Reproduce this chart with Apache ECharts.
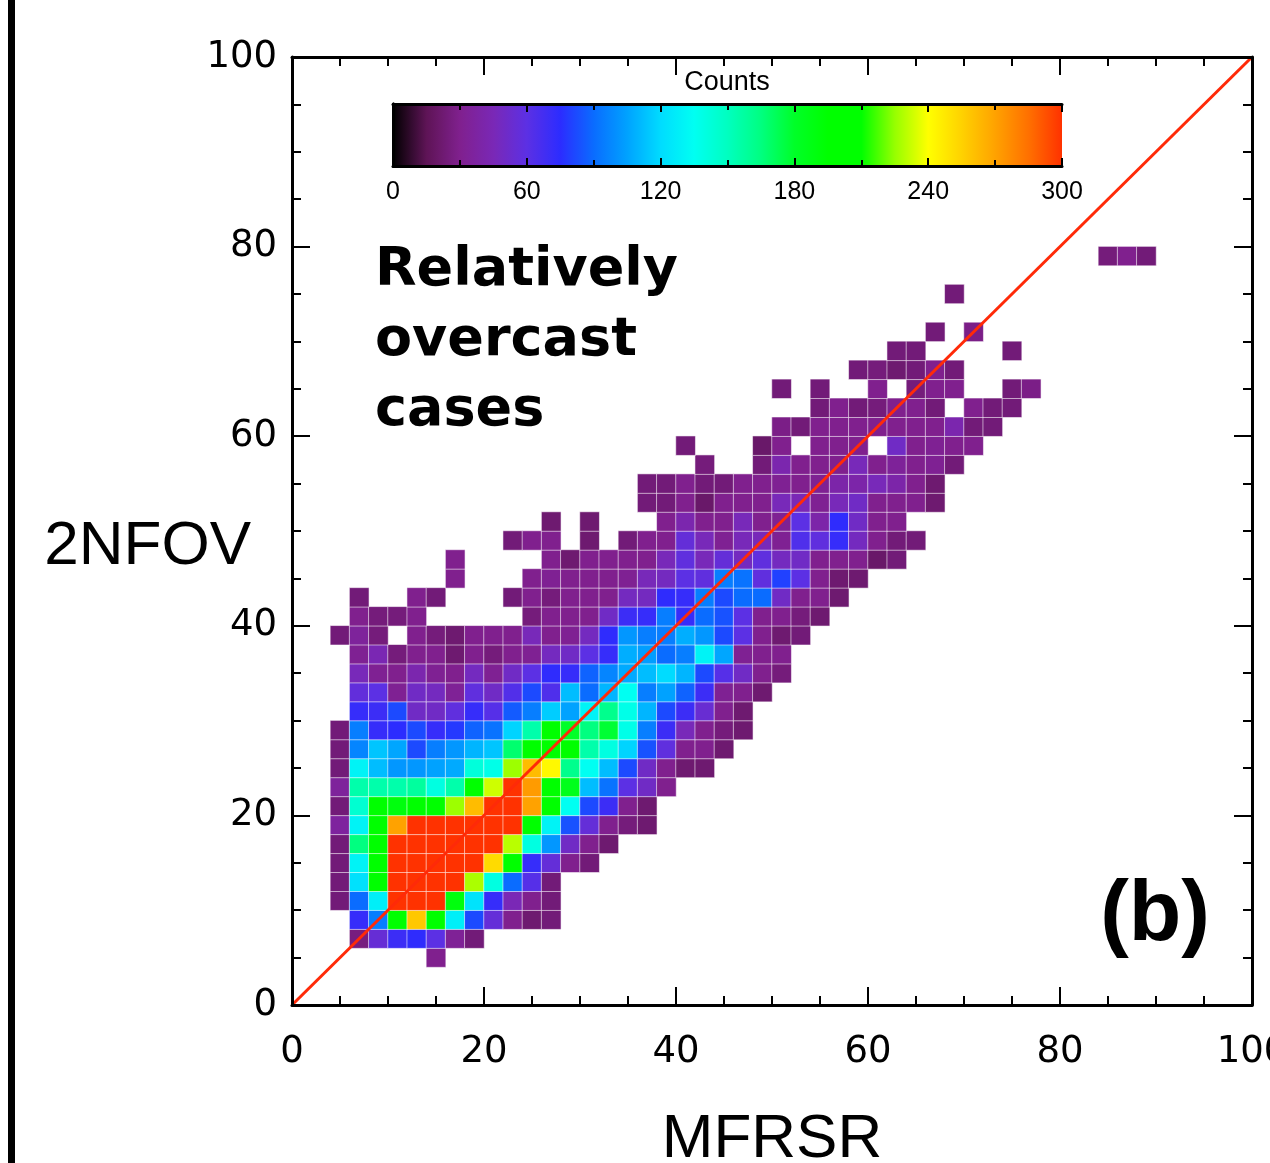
<!DOCTYPE html>
<html>
<head>
<meta charset="utf-8">
<script src="https://cdn.jsdelivr.net/npm/echarts@6/dist/echarts.min.js"></script>
<style>
  html, body { margin: 0; padding: 0; background: #fff; }
  #chart { width: 1270px; height: 1163px; }
</style>
</head>
<body>
<div id="chart"></div>
<script>
// 2D histogram of cloud fraction (%): MFRSR (x) vs 2NFOV (y), 2 % bins.
// Each row holds counts for consecutive x bins, starting at the x edge given in xFirst.
const n04 = [30];
const n06 = [26, 55, 70, 74, 60, 33, 24];
const n08 = [72, 95, 195, 258, 195, 128, 82, 56, 30, 22, 24];
const n10 = [24, 90, 128, 300, 300, 300, 190, 123, 72, 45, 30, 24];
const n12 = [24, 122, 195, 300, 300, 300, 300, 228, 140, 90, 62, 24];
const n14 = [24, 130, 195, 300, 300, 300, 300, 300, 252, 195, 72, 56, 30, 24];
const n16 = [24, 165, 195, 300, 300, 300, 300, 300, 300, 230, 140, 102, 50, 30, 22];
const n18 = [36, 130, 195, 270, 300, 300, 300, 300, 300, 300, 195, 130, 84, 56, 30, 25, 22];
const n20 = [24, 145, 195, 190, 195, 195, 226, 262, 300, 300, 270, 195, 135, 82, 70, 30, 22];
const n22 = [35, 155, 155, 155, 158, 140, 155, 195, 233, 300, 272, 195, 185, 112, 92, 60, 50, 30];
const n24 = [24, 130, 112, 102, 102, 105, 107, 142, 138, 226, 262, 242, 162, 135, 112, 82, 50, 30, 22, 22];
const n26 = [24, 97, 114, 106, 82, 95, 102, 110, 114, 168, 195, 195, 198, 155, 140, 118, 84, 58, 30, 30, 22];
const n28 = [24, 95, 72, 75, 82, 72, 78, 88, 92, 118, 155, 195, 180, 165, 178, 138, 95, 70, 46, 30, 25, 22];
const n30 = [72, 70, 82, 50, 50, 58, 72, 62, 86, 95, 116, 105, 130, 162, 138, 110, 82, 70, 54, 30, 22];
const n32 = [57, 60, 32, 50, 48, 33, 58, 50, 63, 82, 64, 112, 90, 110, 135, 95, 105, 88, 70, 32, 30, 22];
const n34 = [46, 32, 30, 42, 32, 30, 48, 32, 50, 60, 74, 72, 88, 97, 107, 112, 120, 110, 82, 62, 50, 30, 25];
const n36 = [32, 44, 25, 30, 30, 22, 30, 25, 30, 32, 48, 50, 60, 72, 108, 104, 90, 95, 130, 106, 32, 30, 30];
const n38 = [24, 35, 25, null, 30, 25, 22, 30, 30, 30, 46, 30, 32, 48, 74, 102, 95, 95, 108, 102, 82, 60, 30, 22, 24];
const n40 = [30, 25, 25, 30, null, null, null, null, null, 25, 30, 30, 30, 50, 70, 72, 95, 72, 90, 84, 60, 30, 30, 25, 22];
const n42 = [24, null, null, 30, 24, null, null, null, 24, 30, 25, 30, 30, 30, 48, 48, 74, 72, 95, 82, 90, 90, 50, 30, 30, 22];
const n44 = [30, null, null, null, 30, 32, 30, 30, 30, 32, 46, 48, 60, 58, 95, 92, 58, 80, 60, 30, 22, 22];
const n46 = [30, null, null, null, null, 30, 22, 30, 30, 30, 30, 46, 58, 46, 56, 48, 58, 48, 50, 30, 30, 30, 20, 24];
const n48 = [24, 30, 30, null, 22, null, 24, 30, 30, 56, 46, 32, 46, 46, 32, 64, 58, 72, 48, 30, 24, 24];
const n50 = [22, null, 22, null, null, null, 30, 42, 30, 30, 46, 30, 32, 60, 40, 74, 50, 30, 30];
const n52 = [24, 24, 30, 20, 30, 30, 30, 46, 45, 32, 46, 50, 30, 30, 30, 22];
const n54 = [24, 24, 30, 24, 24, 30, 30, 32, 30, 32, 40, 40, 46, 40, 30, 22];
const n56 = [25, null, null, 24, 42, 30, 30, 30, 46, 30, 34, 30, 32, 24];
const n58 = [24, null, null, null, 20, 30, null, 30, 30, 30, null, 50, 30, 32, 30, 30];
const n60 = [28, 24, 30, 30, 30, 30, 30, 30, 30, 42, 24, 24];
const n62 = [24, 30, 24, 25, 30, 30, 24, null, 30, 24, 24];
const n64 = [24, null, 24, null, null, 30, null, 25, 30, 30, null, null, 24, 28];
const n66 = [24, 25, 22, 24, 30, 24];
const n68 = [24, 24, null, null, null, null, 24];
const n70 = [24, null, 28];
const n74 = [24];
const n78 = [25, 30, 24];

const countRows = [n04, n06, n08, n10, n12, n14, n16, n18, n20, n22, n24, n26, n28, n30, n32, n34,
  n36, n38, n40, n42, n44, n46, n48, n50, n52, n54, n56, n58, n60, n62, n64, n66, n68, n70, n74, n78];
// lower edge (%) of each row's 2NFOV bin
const yLow = [4, 6, 8, 10, 12, 14, 16, 18, 20, 22, 24, 26, 28, 30, 32, 34,
  36, 38, 40, 42, 44, 46, 48, 50, 52, 54, 56, 58, 60, 62, 64, 66, 68, 70, 74, 78];
// lower edge (%) of the first MFRSR bin listed in each row
const xFirst = [14, 6, 6, 4, 4, 4, 4, 4, 4, 4, 4, 4, 4, 6, 6, 6,
  6, 4, 6, 6, 16, 16, 22, 26, 36, 36, 42, 40, 50, 54, 50, 58, 62, 66, 68, 84];

const binWidth = 2;
const axisTicks = [0, 20, 40, 60, 80, 100];
const colorbarTicks = [0, 60, 120, 180, 240, 300];
const oneToOne = [[0, 0], [100, 100]];

// rainbow colour table, stops every 15 counts from 0 to 300
const rainbow = ['#000000', '#5e1456', '#80208e', '#7a28b6', '#5c30e4', '#2c2cff', '#0a6cff',
  '#00a2ff', '#00dcff', '#00fff2', '#00ffc0', '#00ff80', '#00ff28', '#00ff00', '#00ff00',
  '#96ff00', '#ffff00', '#ffd200', '#ffa200', '#ff7000', '#ff3200'];

const nBins = 100 / binWidth;
const binLabels = Array.from({ length: nBins }, (_, i) => String(i * binWidth));

const cells = [];
countRows.forEach((row, r) => {
  const yi = yLow[r] / binWidth;
  const x0 = xFirst[r] / binWidth;
  row.forEach((v, i) => {
    if (v !== null) cells.push([x0 + i, yi, v]);
  });
});

const tickFont = { fontFamily: 'DejaVu Sans', fontSize: 37, color: '#000' };
const black = { color: '#000', width: 3 };

function frameAxis(extra) {
  return Object.assign({
    type: 'value', min: 0, max: 100, interval: 20, gridIndex: 0, z: 10,
    axisLine: { show: true, onZero: false, lineStyle: black },
    axisTick: { show: true, inside: true, length: 18, lineStyle: { color: '#000', width: 2 } },
    minorTick: { show: true, splitNumber: 4, length: 9, lineStyle: { color: '#000', width: 2 } },
    splitLine: { show: false },
    axisLabel: { show: false }
  }, extra);
}

function barAxis(extra) {
  return Object.assign({
    type: 'value', min: 0, max: 300, interval: 60, gridIndex: 1, z: 10,
    axisLine: { show: true, onZero: false, lineStyle: black },
    axisTick: { show: true, inside: true, length: 8, lineStyle: { color: '#000', width: 2 } },
    minorTick: { show: true, splitNumber: 2, length: 6, lineStyle: { color: '#000', width: 2 } },
    splitLine: { show: false },
    axisLabel: { show: false }
  }, extra);
}

const chart = echarts.init(document.getElementById('chart'), null, { renderer: 'canvas' });

chart.setOption({
  animation: false,
  backgroundColor: '#fff',
  grid: [
    { left: 292, top: 57, width: 960, height: 948, outerBoundsMode: 'none', containLabel: false },
    { left: 393, top: 104, width: 669, height: 62, outerBoundsMode: 'none', containLabel: false }
  ],
  xAxis: [
    frameAxis({
      position: 'bottom',
      axisLabel: Object.assign({ show: true, margin: 29, hideOverlap: false,
        formatter: v => (axisTicks.indexOf(v) >= 0 ? String(v) : '') }, tickFont),
      name: 'MFRSR', nameLocation: 'middle', nameGap: 104, nameMoveOverlap: false,
      nameTextStyle: { fontFamily: 'Liberation Sans', fontSize: 62, color: '#000' }
    }),
    frameAxis({ position: 'top' }),
    { type: 'category', gridIndex: 0, data: binLabels, show: false },
    barAxis({
      position: 'bottom',
      axisLabel: { show: true, margin: 14, fontFamily: 'Liberation Sans', fontSize: 25, color: '#000',
        formatter: v => (colorbarTicks.indexOf(v) >= 0 ? String(v) : '') }
    }),
    barAxis({ position: 'top' })
  ],
  yAxis: [
    frameAxis({
      position: 'left',
      axisLabel: Object.assign({ show: true, margin: 15,
        formatter: v => (axisTicks.indexOf(v) >= 0 ? String(v) : '') }, tickFont)
    }),
    frameAxis({ position: 'right' }),
    { type: 'category', gridIndex: 0, data: binLabels, show: false },
    { type: 'value', gridIndex: 1, min: 0, max: 1, position: 'left', z: 10,
      axisLine: { show: true, lineStyle: black }, axisTick: { show: false },
      axisLabel: { show: false }, splitLine: { show: false } },
    { type: 'value', gridIndex: 1, min: 0, max: 1, position: 'right', z: 10,
      axisLine: { show: true, lineStyle: black }, axisTick: { show: false },
      axisLabel: { show: false }, splitLine: { show: false } }
  ],
  visualMap: {
    type: 'continuous',
    seriesIndex: 0,
    min: 0, max: 300,
    calculable: false,
    hoverLink: false,
    orient: 'horizontal',
    left: 393, top: 104,
    itemWidth: 62, itemHeight: 669,
    padding: 0,
    text: null,
    inRange: { color: rainbow }
  },
  series: [
    {
      type: 'heatmap',
      xAxisIndex: 2, yAxisIndex: 2,
      data: cells,
      itemStyle: { borderColor: 'rgba(255,255,255,0.55)', borderWidth: 1 },
      emphasis: { disabled: true },
      z: 2
    },
    {
      type: 'line',
      xAxisIndex: 0, yAxisIndex: 0,
      data: oneToOne,
      symbol: 'none',
      lineStyle: { color: '#ff2a08', width: 3 },
      z: 5
    }
  ],
  graphic: [
    { type: 'rect', left: 8, top: 0, shape: { width: 7, height: 1163 }, style: { fill: '#000' } },
    { type: 'text', x: 251, y: 547, style: { text: '2NFOV', font: '62px "Liberation Sans"',
      fill: '#000', align: 'right', verticalAlign: 'middle' } },
    { type: 'text', x: 727, y: 83, style: { text: 'Counts', font: '27px "Liberation Sans"',
      fill: '#000', align: 'center', verticalAlign: 'middle' } },
    { type: 'text', x: 375, y: 236, style: { text: 'Relatively\novercast\ncases',
      font: 'bold 54px "DejaVu Sans"', lineHeight: 70, fill: '#000', align: 'left', verticalAlign: 'top' } },
    { type: 'text', x: 1210, y: 916, style: { text: '(b)', font: 'bold 86px "Liberation Sans"',
      fill: '#000', align: 'right', verticalAlign: 'middle' } }
  ]
});
</script>
</body>
</html>
